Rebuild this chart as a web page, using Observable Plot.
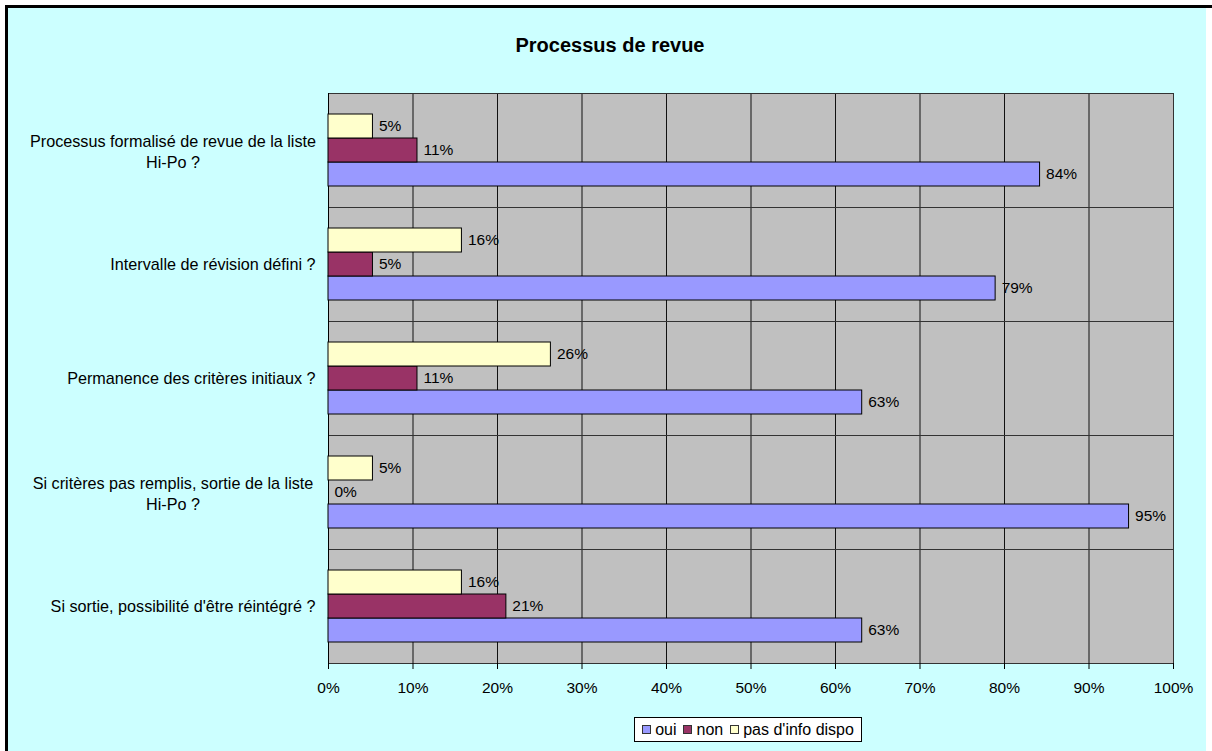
<!DOCTYPE html>
<html>
<head>
<meta charset="utf-8">
<script src="https://cdn.jsdelivr.net/npm/d3@7"></script>
<script src="https://cdn.jsdelivr.net/npm/@observablehq/plot@0.6"></script>
<style>
  html, body { margin: 0; padding: 0; background: #fff; }
  #chart { position: relative; width: 1212px; height: 751px; overflow: hidden; background: #fff;
           font-family: "Liberation Sans", Arial, sans-serif; color: #000; }
  #panel { position: absolute; left: 5px; top: 5px; width: 1207px; height: 760px; box-sizing: border-box;
           border-top: 3px solid #000; border-left: 3px solid #000;
           background: linear-gradient(to right, #CCFFFF 0, #CCFFFF 1198px, #fff 1198px); }
  #plot { position: absolute; left: 0; top: 0; }
  #title { position: absolute; left: 360px; width: 500px; top: 34px; text-align: center;
           font-weight: bold; font-size: 20px; line-height: 22px; }
  #legend { position: absolute; left: 634px; top: 717px; width: 228px; height: 25px; box-sizing: border-box;
            border: 1px solid #000; background: #fff; display: flex; align-items: center; justify-content: center;
            font-size: 16px; gap: 7px; }
  #legend .item { display: flex; align-items: center; white-space: nowrap; }
  #legend .sw { width: 7px; height: 7px; border: 1px solid #333; margin-right: 4px; }
</style>
</head>
<body>
<div id="chart">
  <div id="panel"></div>
  <div id="plot"></div>
  <div id="title"></div>
  <div id="legend"></div>
</div>
<script>
// Survey answers per question (share of respondents)
const titleText = "Processus de revue";
const categories = [
  "Processus formalisé de revue de la liste\nHi-Po ?",
  "Intervalle de révision défini ?",
  "Permanence des critères initiaux ?",
  "Si critères pas remplis, sortie de la liste\nHi-Po ?",
  "Si sortie, possibilité d'être réintégré ?"
];
const series = ["oui", "non", "pas d'info dispo"];
const oui     = [0.8421, 0.7895, 0.6316, 0.9474, 0.6316];
const non     = [0.1053, 0.0526, 0.1053, 0.0000, 0.2105];
const pasInfo = [0.0526, 0.1579, 0.2632, 0.0526, 0.1579];
const xTicks  = [0, 0.1, 0.2, 0.3, 0.4, 0.5, 0.6, 0.7, 0.8, 0.9, 1.0];
const colors  = ["#9999FF", "#993366", "#FFFFCC"];

const rows = categories.flatMap((c, i) => [
  {category: c, series: "oui", value: oui[i]},
  {category: c, series: "non", value: non[i]},
  {category: c, series: "pas d'info dispo", value: pasInfo[i]}
]);

const pct = d3.format(".0%");
const W = 1212, H = 751, mL = 328, mR = 39, mT = 92, mB = 87;
const facetH = (H - mT - mB) / categories.length;

const wrapped = categories.filter(c => c.includes("\n"));
const single = categories.filter(c => !c.includes("\n"));

const chart = Plot.plot({
  width: W, height: H,
  marginLeft: mL, marginRight: mR, marginTop: mT, marginBottom: mB,
  style: {background: "transparent", fontFamily: "'Liberation Sans', Arial, sans-serif",
          fontSize: "15.5px", color: "#000", overflow: "visible"},
  x: {domain: [0, 1], axis: null},
  fy: {domain: categories, padding: 0, axis: null, label: null},
  y: {domain: ["pas d'info dispo", "non", "oui"], paddingInner: 0, paddingOuter: 0.79, axis: null},
  color: {domain: series, range: colors},
  marks: [
    Plot.frame({fill: "#C0C0C0"}),
    Plot.gridX(xTicks, {stroke: "#111", strokeOpacity: 1}),
    Plot.frame({stroke: "#333"}),
    Plot.ruleX([0], {stroke: "#000"}),
    // category boundary ticks on the left axis
    Plot.ruleY(categories, {fy: d => d, x1: 0, x2: 0, insetLeft: -5, dy: -facetH / 2, stroke: "#000"}),
    Plot.ruleY(categories.slice(-1), {fy: d => d, x1: 0, x2: 0, insetLeft: -5, dy: facetH / 2, stroke: "#000"}),
    Plot.axisX(xTicks, {tickFormat: pct, tickSize: 6, tickPadding: 12, label: null, stroke: "#000"}),
    Plot.barX(rows, {x: "value", y: "series", fy: "category", fill: "series", stroke: "#000", strokeWidth: 1}),
    Plot.text(rows, {x: "value", y: "series", fy: "category", text: d => pct(d.value),
                     textAnchor: "start", dx: 6, fill: "#000"}),
    // question labels
    Plot.text(single, {fy: d => d, frameAnchor: "left", text: d => d, textAnchor: "end", dx: -13,
                       fontSize: 16.2, fill: "#000"}),
    Plot.text(wrapped, {fy: d => d, frameAnchor: "left", text: d => d, textAnchor: "middle",
                        dx: -155.5, lineHeight: 1.32, fontSize: 16.2, fill: "#000"})
  ]
});
document.getElementById("plot").appendChild(chart);

document.getElementById("title").textContent = titleText;

const legend = document.getElementById("legend");
series.forEach((s, i) => {
  const item = document.createElement("div");
  item.className = "item";
  const sw = document.createElement("span");
  sw.className = "sw";
  sw.style.background = colors[i];
  const label = document.createElement("span");
  label.textContent = s;
  item.appendChild(sw);
  item.appendChild(label);
  legend.appendChild(item);
});
</script>
</body>
</html>
